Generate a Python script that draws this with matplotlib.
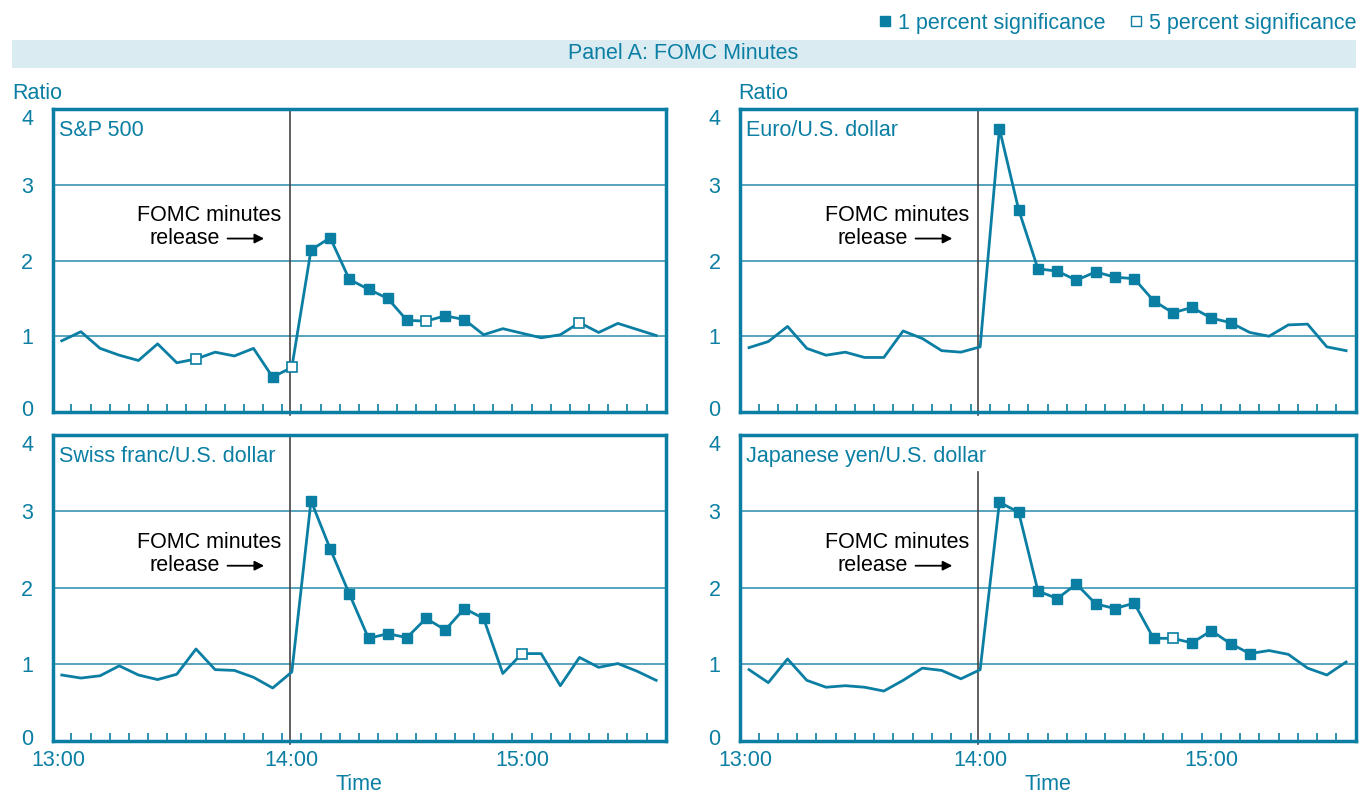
import matplotlib.pyplot as plt
import numpy as np
from matplotlib.lines import Line2D
from matplotlib.patches import Rectangle
from matplotlib.transforms import ScaledTranslation

plt.rcParams['font.family'] = ['Liberation Sans', 'DejaVu Sans']
FS = 15.5

# minutes after 13:00, 5-minute intervals 13:00 - 15:35
minutes = np.arange(0, 160, 5)

titles = ['S&P 500', 'Euro/U.S. dollar', 'Swiss franc/U.S. dollar', 'Japanese yen/U.S. dollar']

sp500 = [0.94, 1.06, 0.84, 0.75, 0.68, 0.90, 0.65, 0.70, 0.79, 0.74, 0.84, 0.46,
         0.59, 2.14, 2.30, 1.75, 1.62, 1.50, 1.21, 1.20, 1.27, 1.22, 1.02, 1.10,
         1.04, 0.98, 1.02, 1.18, 1.05, 1.17, 1.09, 1.01]
euro = [0.85, 0.93, 1.13, 0.84, 0.75, 0.79, 0.72, 0.72, 1.07, 0.97, 0.81, 0.79,
        0.86, 3.74, 2.67, 1.89, 1.86, 1.74, 1.85, 1.78, 1.76, 1.47, 1.31, 1.38,
        1.24, 1.18, 1.05, 1.00, 1.15, 1.16, 0.86, 0.81]
swiss = [0.86, 0.82, 0.85, 0.98, 0.86, 0.80, 0.87, 1.20, 0.93, 0.92, 0.83, 0.69,
         0.90, 3.14, 2.51, 1.92, 1.34, 1.40, 1.35, 1.60, 1.45, 1.73, 1.60, 0.88,
         1.14, 1.14, 0.72, 1.09, 0.96, 1.01, 0.91, 0.79]
yen = [0.93, 0.76, 1.07, 0.79, 0.70, 0.72, 0.70, 0.65, 0.79, 0.95, 0.92, 0.81,
       0.93, 3.12, 2.99, 1.96, 1.86, 2.05, 1.79, 1.73, 1.80, 1.34, 1.34, 1.28,
       1.44, 1.27, 1.14, 1.18, 1.13, 0.95, 0.86, 1.03]

# indices of points significant at 1 and 5 percent
sig1 = [[11, 13, 14, 15, 16, 17, 18, 20, 21],
        list(range(13, 26)),
        list(range(13, 23)),
        [13, 14, 15, 16, 17, 18, 19, 20, 21, 23, 24, 25, 26]]
sig5 = [[7, 12, 19, 27], [], [24], [22]]

series = [sp500, euro, swiss, yen]

teal = '#0b7fa3'
grid_c = '#3a93b3'

fig = plt.figure(figsize=(13.59, 7.94), dpi=100)

positions = [[0.0388, 0.4811, 0.4511, 0.3816],
             [0.5445, 0.4811, 0.4531, 0.3816],
             [0.0388, 0.0671, 0.4511, 0.385],
             [0.5445, 0.0671, 0.4531, 0.385]]

for i, pos in enumerate(positions):
    ax = fig.add_axes(pos)
    vals = np.array(series[i])
    ax.set_xlim(-2.35, 157.5)
    ax.set_ylim(0, 4)
    for y in [1, 2, 3]:
        ax.axhline(y, color=grid_c, lw=1.2, zorder=1)
    vtop = 0.88 if i == 3 else 1.0
    ax.axvline(59.5, ymin=-0.01, ymax=vtop, color='#444444', lw=1.2, zorder=2, clip_on=False)
    ax.plot(minutes, vals, color=teal, lw=2.0, zorder=3)
    s1 = sig1[i]
    ax.plot(minutes[s1], vals[s1], 's', color=teal, ms=7.5, zorder=4)
    s5 = sig5[i]
    if s5:
        ax.plot(minutes[s5], vals[s5], 's', mfc='white', mec=teal, mew=1.2, ms=7.5, zorder=4)
    for sp in ax.spines.values():
        sp.set_color(teal)
        sp.set_linewidth(2.5)
    ax.set_yticks([0, 1, 2, 3, 4])
    ax.tick_params(axis='y', length=0, pad=14, labelsize=FS, labelcolor=teal)
    # nudge the end labels inwards like the original
    ylabs = ax.get_yticklabels()
    ylabs[0].set_transform(ylabs[0].get_transform() + ScaledTranslation(0, 0.04, fig.dpi_scale_trans))
    ylabs[-1].set_transform(ylabs[-1].get_transform() + ScaledTranslation(0, -0.08, fig.dpi_scale_trans))
    ax.set_xticks(np.arange(2.5, 155, 5), minor=True)
    ax.tick_params(axis='x', which='minor', direction='in', length=6, color=teal, width=1.2)
    if i >= 2:
        ax.set_xticks([-1, 60, 120])
        ax.set_xticklabels(['13:00', '14:00', '15:00'])
        ax.tick_params(axis='x', which='major', length=0, pad=7, labelsize=FS, labelcolor=teal)
        ax.set_xlabel('Time', fontsize=FS, color=teal, labelpad=2)
    else:
        ax.set_xticks([])
    ax.text(0.01, 0.965, titles[i], transform=ax.transAxes, ha='left', va='top',
            fontsize=FS, color=teal)
    ax.text(57.2, 2.6, 'FOMC minutes', ha='right', va='center', fontsize=FS, color='black')
    ax.text(41.3, 2.29, 'release', ha='right', va='center', fontsize=FS, color='black')
    ax.annotate('', xy=(53.5, 2.29), xytext=(42.5, 2.29),
                arrowprops=dict(arrowstyle='-|>', color='black', lw=1.3, mutation_scale=14))

# banner
fig.patches.append(Rectangle((0.0088, 0.9144), 0.989, 0.0353, transform=fig.transFigure,
                             facecolor='#dbebf2', edgecolor='none'))
fig.text(0.503, 0.932, 'Panel A: FOMC Minutes', ha='center', va='center', fontsize=FS, color=teal)
fig.text(0.0088, 0.882, 'Ratio', ha='left', va='center', fontsize=FS, color=teal)
fig.text(0.543, 0.882, 'Ratio', ha='left', va='center', fontsize=FS, color=teal)

handles = [Line2D([], [], ls='none', marker='s', color=teal, ms=7),
           Line2D([], [], ls='none', marker='s', mfc='white', mec=teal, mew=1.0, ms=7)]
fig.legend(handles, ['1 percent significance', '5 percent significance'], loc='center right',
           bbox_to_anchor=(0.998, 0.971), ncol=2, frameon=False, fontsize=FS,
           labelcolor=teal, handletextpad=0.2, columnspacing=1.0, handlelength=0.8,
           borderpad=0, borderaxespad=0)

fig.savefig('out.png', dpi=100)
